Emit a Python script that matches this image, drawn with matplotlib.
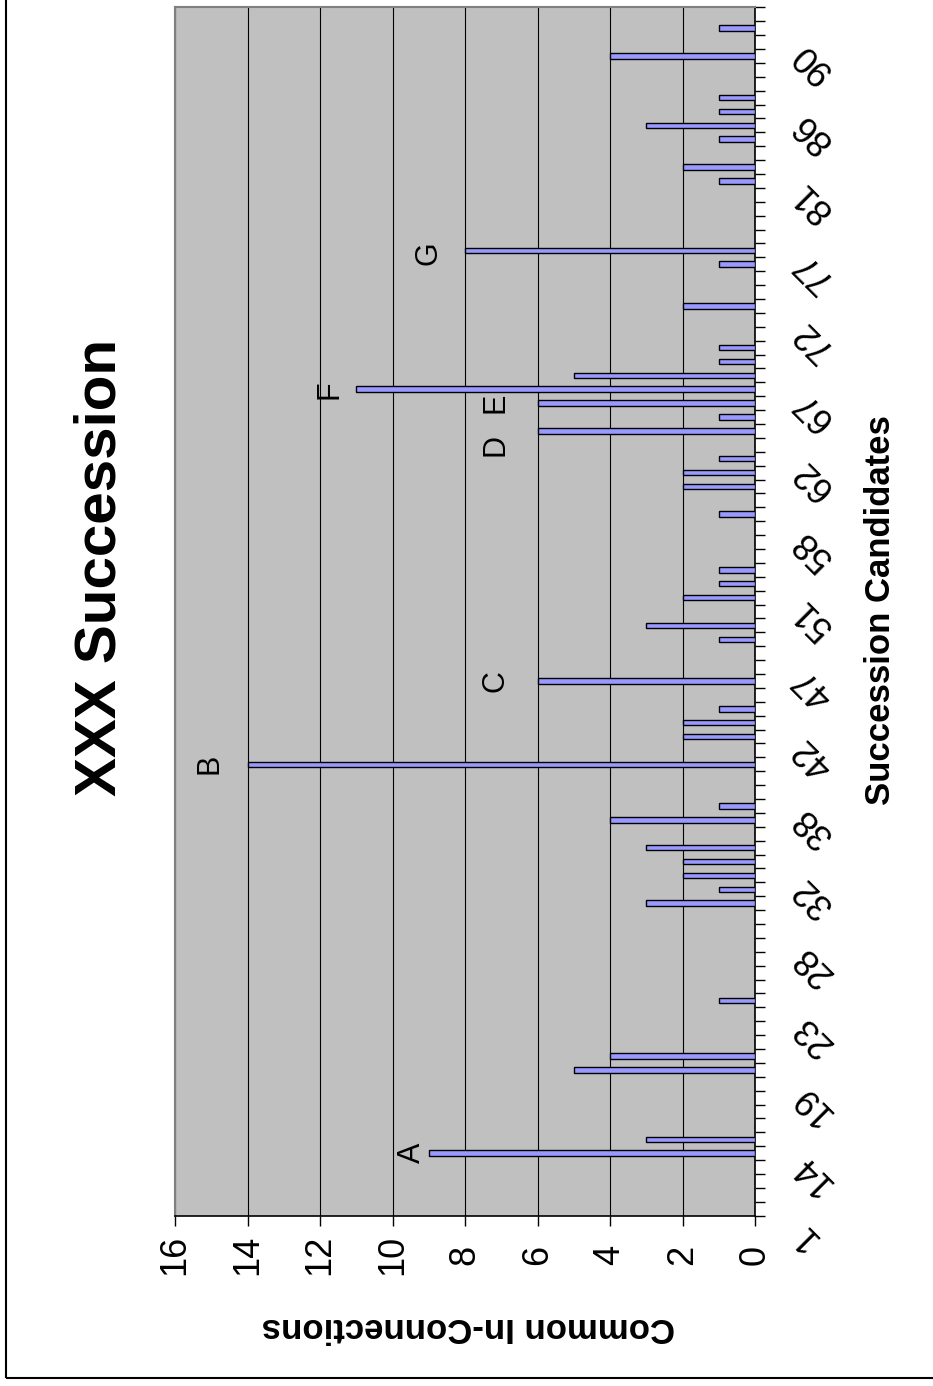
import numpy as np
import matplotlib
matplotlib.use("Agg")
import matplotlib.pyplot as plt
from matplotlib.patches import Rectangle
from matplotlib.transforms import ScaledTranslation

plt.rcParams['font.family'] = ['Liberation Sans', 'DejaVu Sans']

# Common in-connections for each succession candidate (axis order, bottom to top)
connections = [0, 0, 0, 0, 9, 3, 0, 0, 0, 0,
               5, 4, 0, 0, 0, 1, 0, 0, 0, 0,
               0, 0, 3, 1, 2, 2, 3, 0, 4, 1,
               0, 0, 14, 0, 2, 2, 1, 0, 6, 0,
               0, 1, 3, 0, 2, 1, 1, 0, 0, 0,
               1, 0, 2, 2, 1, 0, 6, 1, 6, 11,
               5, 1, 1, 0, 0, 2, 0, 0, 1, 8,
               0, 0, 0, 0, 1, 2, 0, 1, 3, 1,
               1, 0, 0, 4, 0, 1, 0]

# every fifth candidate gets a label
candidate_labels = ["1", "14", "19", "23", "28", "32", "38", "42", "47",
                    "51", "58", "62", "67", "72", "77", "81", "86", "90"]

# marked candidates: letter, position on the axis
marked_letters = ["A", "B", "C", "D", "E", "F", "G"]
marked_pos = [4, 32, 38, 56, 58, 59, 69]
# nudges for the letters (value units, category units)
marked_dx = [0.45, 1.05, 1.15, 1.15, 1.15, 0.75, 1.0]
marked_dy = [0.0, 0.0, 0.0, -1.0, 0.0, 0.0, -0.2]

W, H = 933, 1386
fig = plt.figure(figsize=(W / 100, H / 100), dpi=100)

# page is laid out sideways: value axis runs right-to-left along the bottom
left, right, top, bottom = 175, 755, 7.3, 1215.7
ax = fig.add_axes([left / W, 1 - bottom / H, (right - left) / W, (bottom - top) / H])
ax.set_facecolor('#C0C0C0')

n = len(connections)
pos = np.arange(n)
ax.barh(pos, connections, height=0.4, color='#9999FF', edgecolor='black',
        linewidth=1.0, zorder=3)

ax.set_xlim(16, 0)
ax.set_ylim(-0.5, n - 0.5)

ax.set_xticks(range(0, 17, 2), labels=[str(v) for v in range(0, 17, 2)],
              rotation=90, va='center', fontsize=26)
ax.tick_params(axis='x', direction='out', length=7, width=1, pad=21)
ax.xaxis.grid(True, color='black', linewidth=0.8, zorder=1)

ax.yaxis.tick_right()
ax.set_yticks(np.arange(-0.5, n, 1.0))
ax.tick_params(axis='y', direction='out', length=7.5, width=1,
               labelright=False, labelleft=False)

for side in ('top', 'left'):
    ax.spines[side].set_color('#808080')
    ax.spines[side].set_linewidth(1.5)
for side in ('right', 'bottom'):
    ax.spines[side].set_color('black')
    ax.spines[side].set_linewidth(1.2)

# slanted candidate labels to the right of the category axis
lab_trans = ax.get_yaxis_transform() + ScaledTranslation(0.435, -0.205, fig.dpi_scale_trans)
for i, lab in enumerate(candidate_labels):
    ax.text(1.0, i * 5, lab, transform=lab_trans, rotation=135,
            rotation_mode='anchor', ha='right', va='center', fontsize=26)

for letter, p, dx, dy in zip(marked_letters, marked_pos, marked_dx, marked_dy):
    ax.text(connections[p] + dx, p + dy, letter, rotation=90,
            ha='center', va='center', fontsize=22, zorder=4)

fig.text(101 / W, 1 - 567 / H, "XXX Succession", rotation=90, ha='center',
         va='center', fontsize=42, fontweight='bold')
fig.text(880 / W, 1 - 610 / H, "Succession Candidates", rotation=90,
         ha='center', va='center', fontsize=25, fontweight='bold')
fig.text(468 / W, 1 - 1328 / H, "Common In-Connections", rotation=180,
         ha='center', va='center', fontsize=25, fontweight='bold')

# chart border
fig.patches.append(Rectangle((6 / W, 8 / H), 2, 2, transform=fig.transFigure,
                             fill=False, edgecolor='black', linewidth=1.5))

fig.savefig("out.png", dpi=100)
